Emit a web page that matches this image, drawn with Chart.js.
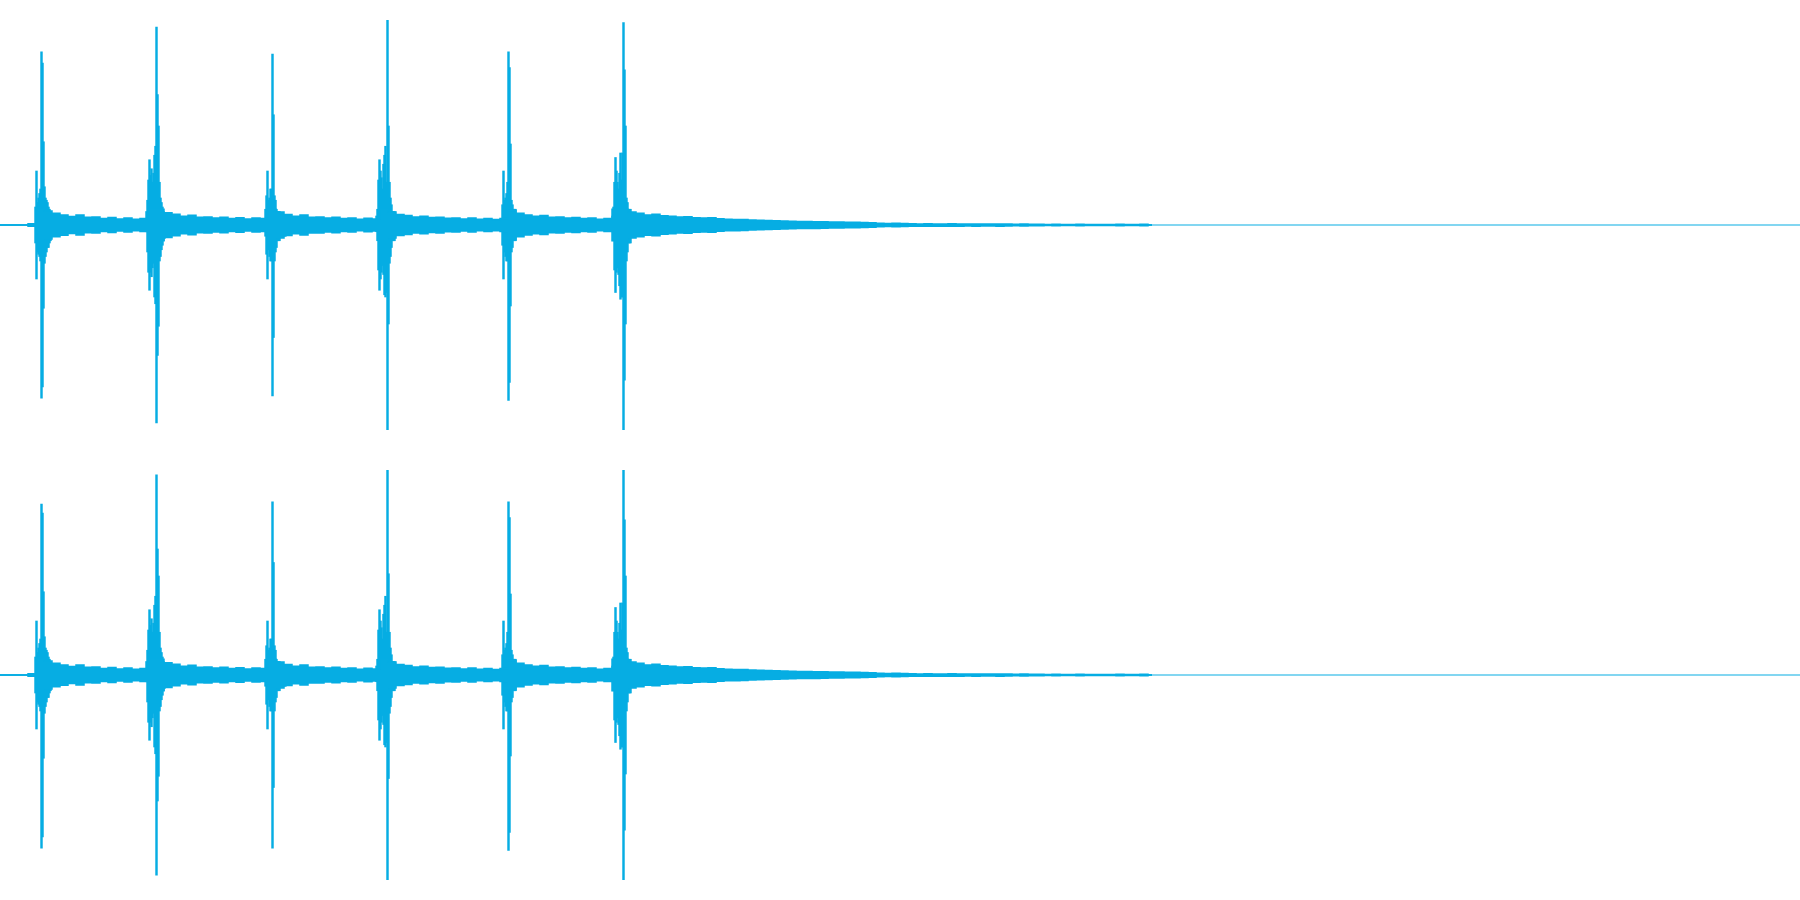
<!DOCTYPE html>
<html>
<head>
<meta charset="utf-8">
<title>Waveform</title>
<script src="https://cdn.jsdelivr.net/npm/chart.js@4.4.1/dist/chart.umd.min.js"></script>
<style>
  html, body { margin: 0; padding: 0; background: #fff; }
  .channel { width: 1800px; height: 450px; position: relative; }
</style>
</head>
<body>
<div class="channel"><canvas id="chanL" width="1800" height="450"></canvas></div>
<div class="channel"><canvas id="chanR" width="1800" height="450"></canvas></div>
<script>
// time axis is in frames (one frame per screen column), amplitude in -1..1
var TOTAL_FRAMES = 1800;
var WAVE_COLOR = '#06ade3';

// frame where each click's body starts, and the frame of its main spike
var clickStart = [35, 146, 265, 376, 502, 612];
var clickPeak = [41, 156, 272, 387, 508, 623];

// per-frame envelope (max / min) of each click
var click1Top = [0.08, 0.24, 0.10, 0.12, 0.14, 0.16, 0.77, 0.72, 0.37, 0.17, 0.12, 0.11, 0.10, 0.08, 0.07, 0.05, 0.04, 0.04, 0.035];
var click1Bot = [-0.08, -0.24, -0.12, -0.13, -0.14, -0.16, -0.77, -0.72, -0.37, -0.17, -0.14, -0.12, -0.10, -0.10, -0.08, -0.07, -0.05, -0.05, -0.045];
var click2Top = [0.06, 0.11, 0.20, 0.29, 0.22, 0.25, 0.19, 0.23, 0.31, 0.35, 0.88, 0.58, 0.44, 0.19, 0.12, 0.10, 0.08, 0.06, 0.05, 0.04, 0.04, 0.04, 0.04];
var click2Bot = [-0.03, -0.12, -0.21, -0.29, -0.21, -0.23, -0.19, -0.17, -0.32, -0.35, -0.88, -0.58, -0.45, -0.16, -0.14, -0.11, -0.09, -0.07, -0.06, -0.05, -0.05, -0.05, -0.05];
var click3Top = [0.07, 0.13, 0.24, 0.11, 0.12, 0.16, 0.16, 0.76, 0.49, 0.13, 0.11, 0.07, 0.06, 0.06, 0.06, 0.045, 0.045, 0.045, 0.045, 0.045, 0.045];
var click3Bot = [-0.05, -0.13, -0.24, -0.11, -0.14, -0.16, -0.16, -0.76, -0.50, -0.16, -0.12, -0.10, -0.07, -0.07, -0.07, -0.05, -0.05, -0.05, -0.05, -0.05, -0.05];
var click4Top = [0.04, 0.07, 0.20, 0.29, 0.24, 0.21, 0.16, 0.27, 0.31, 0.35, 0.19, 0.91, 0.44, 0.19, 0.12, 0.09, 0.06, 0.06, 0.06, 0.035, 0.035, 0.035, 0.035, 0.035, 0.035];
var click4Bot = [-0.03, -0.07, -0.20, -0.29, -0.24, -0.21, -0.18, -0.22, -0.31, -0.32, -0.30, -0.91, -0.44, -0.17, -0.14, -0.10, -0.07, -0.07, -0.07, -0.04, -0.04, -0.04, -0.04, -0.04, -0.04];
var click5Top = [0.09, 0.24, 0.11, 0.12, 0.14, 0.19, 0.77, 0.70, 0.36, 0.11, 0.09, 0.07, 0.07, 0.07, 0.05, 0.05, 0.05, 0.05, 0.05];
var click5Bot = [-0.09, -0.24, -0.12, -0.14, -0.16, -0.16, -0.78, -0.70, -0.36, -0.12, -0.10, -0.07, -0.07, -0.07, -0.05, -0.05, -0.05, -0.05, -0.05];
var click6Top = [0.04, 0.08, 0.19, 0.30, 0.24, 0.19, 0.16, 0.23, 0.32, 0.20, 0.32, 0.90, 0.69, 0.44, 0.12, 0.10, 0.07, 0.07, 0.07, 0.05, 0.05, 0.05, 0.05, 0.05, 0.05];
var click6Bot = [-0.03, -0.07, -0.20, -0.30, -0.21, -0.19, -0.22, -0.27, -0.33, -0.32, -0.32, -0.91, -0.69, -0.44, -0.16, -0.12, -0.08, -0.08, -0.08, -0.05, -0.05, -0.05, -0.05, -0.05, -0.05];

// second channel: main spike and the spike right after it
var peak2Top = [0.76, 0.89, 0.77, 0.91, 0.77, 0.91];
var peak2Bot = [-0.77, -0.89, -0.77, -0.91, -0.78, -0.91];
var second2Top = [0.72, 0.56, 0.50, 0.45, 0.70, 0.69];
var second2Bot = [-0.72, -0.56, -0.50, -0.46, -0.70, -0.69];

// noise floor between clicks, one value every NOISE_STEP frames (thousandths)
var NOISE_STEP = 8;
var noiseAmp = [
  0, 0, 0, 0, 6, 70, 62, 52, 45, 38, 44, 34, 36, 29, 33, 27, 31, 26, 29,
  70, 70, 55, 48, 39, 43, 34, 36, 31, 34, 29, 32, 27, 31, 29,
  70, 58, 47, 39, 44, 35, 36, 31, 34, 29, 31, 26, 30, 27,
  70, 58, 47, 42, 36, 39, 33, 35, 30, 31, 27, 31, 26, 29, 25, 29,
  65, 52, 44, 39, 42, 34, 36, 31, 33, 29, 31, 26, 29,
  70, 70, 58, 52, 45, 48, 41, 39, 36, 37, 32, 31, 32, 28, 26, 25, 24, 22, 21, 20, 19, 18, 17, 16, 16, 15, 14, 13, 13, 12, 12, 11, 10,
  8, 7, 8, 7, 6, 5, 6, 5, 5, 6, 5, 4, 5, 4, 4, 5, 4, 3, 4, 3, 3, 2, 3, 2, 2, 3, 2, 2, 2, 2, 3, 2, 2, 3, 0
];

var clickTops = [click1Top, click2Top, click3Top, click4Top, click5Top, click6Top];
var clickBots = [click1Bot, click2Bot, click3Bot, click4Bot, click5Bot, click6Bot];

function buildColumns(channel) {
  var cols = [];
  for (var c = 0; c < clickStart.length; c++) {
    var tops = clickTops[c], bots = clickBots[c];
    for (var i = 0; i < tops.length; i++) {
      var f = clickStart[c] + i;
      var hi = tops[i], lo = bots[i];
      if (channel === 1 && f === clickPeak[c]) { hi = peak2Top[c]; lo = peak2Bot[c]; }
      if (channel === 1 && f === clickPeak[c] + 1) { hi = second2Top[c]; lo = second2Bot[c]; }
      cols.push({x: f + 0.5, y: [lo, hi]});
    }
  }
  return cols;
}

function buildNoise(sign) {
  return noiseAmp.map(function (a, i) {
    return {x: i * NOISE_STEP, y: sign * a / 1000};
  });
}

function makeChart(id, channel) {
  new Chart(id, {
    type: 'bar',
    data: {
      datasets: [
        {
          type: 'line',
          data: [{x: 0, y: 0}, {x: TOTAL_FRAMES, y: 0}],
          borderColor: WAVE_COLOR,
          borderWidth: 1,
          pointRadius: 0,
          fill: false
        },
        {
          type: 'line',
          data: buildNoise(1),
          borderColor: WAVE_COLOR,
          backgroundColor: WAVE_COLOR,
          borderWidth: 1.5,
          pointRadius: 0,
          stepped: 'middle',
          fill: '+1'
        },
        {
          type: 'line',
          data: buildNoise(-1),
          borderColor: WAVE_COLOR,
          borderWidth: 1.5,
          pointRadius: 0,
          stepped: 'middle',
          fill: false
        },
        {
          type: 'bar',
          data: buildColumns(channel),
          backgroundColor: WAVE_COLOR,
          borderWidth: 0,
          barThickness: 1.8,
          grouped: false
        }
      ]
    },
    options: {
      responsive: false,
      animation: false,
      devicePixelRatio: 1,
      layout: { padding: 0 },
      scales: {
        x: { type: 'linear', min: 0, max: TOTAL_FRAMES, offset: false, display: false },
        y: { min: -1, max: 1, display: false }
      },
      plugins: {
        legend: { display: false },
        tooltip: { enabled: false }
      }
    }
  });
}

makeChart('chanL', 0);
makeChart('chanR', 1);
</script>
</body>
</html>
